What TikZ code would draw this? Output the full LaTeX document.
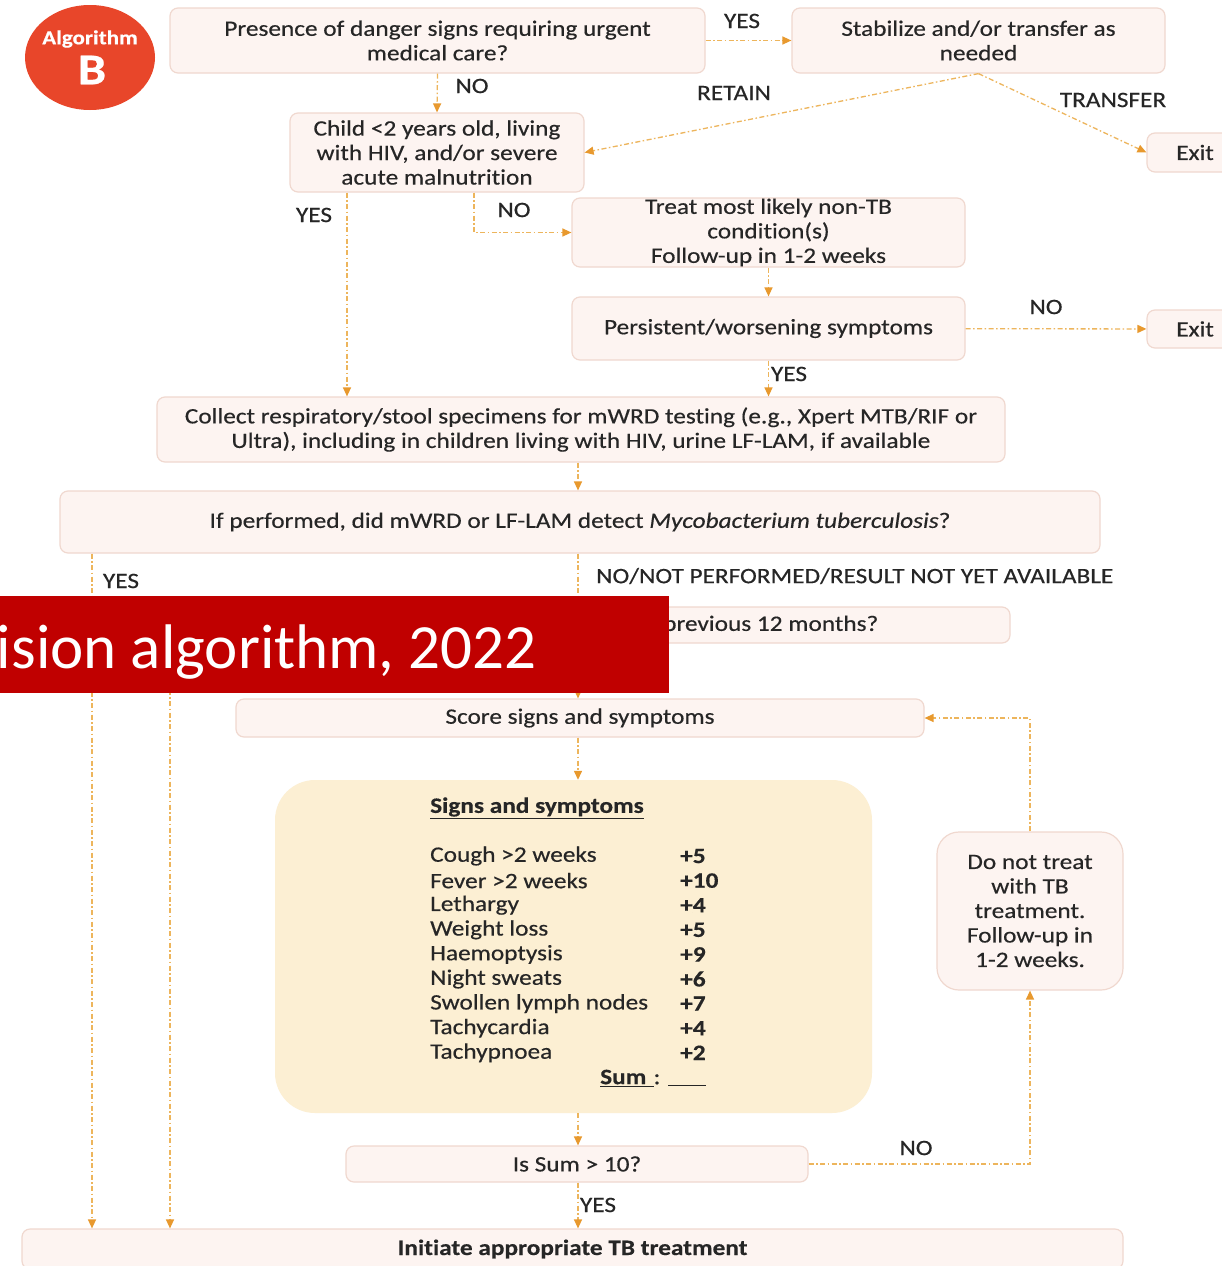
\documentclass[tikz,border=0pt]{standalone}
\usepackage{fontspec}
\setmainfont[FakeStretch=1.15, FakeBold=0.4, Ligatures=NoCommon]{Carlito}
\newfontfamily\bannerfont{Carlito}
\usetikzlibrary{arrows.meta,calc,shapes.geometric}
\definecolor{boxfill}{HTML}{FDF4F1}
\definecolor{boxline}{HTML}{F0D8CF}
\definecolor{flow}{HTML}{EDB55C}
\definecolor{tipcol}{HTML}{E8992E}
\definecolor{panelfill}{HTML}{FCEFD3}
\definecolor{badgefill}{HTML}{E8462A}
\definecolor{bannerred}{HTML}{C00000}
\definecolor{ink}{HTML}{262626}

\begin{document}
\begin{tikzpicture}[x=1pt,y=-1pt,
  every node/.style={text=ink, inner sep=0pt, font=\fontsize{22}{24.5}\selectfont},
  box/.style={draw=boxline, line width=1.2pt, fill=boxfill, rounded corners=8pt, align=center},
  flowline/.style={draw=flow, line width=1.3pt, dash pattern=on 5pt off 2.5pt on 1.5pt off 2.5pt},
  arr/.style={flowline, -{Triangle[length=9pt,width=8pt,fill=tipcol,color=tipcol]}},
]
\useasboundingbox (0,0) rectangle (1222,1266);
\clip (0,0) rectangle (1222,1266);
\fill[white] (0,0) rectangle (1222,1266);

% column positions of the vertical connectors
\coordinate (xa) at (347,0);
\coordinate (xb) at (474,0);
\coordinate (xm) at (578,0);
\coordinate (xy) at (92,0);
\coordinate (xp) at (170,0);

% badge
\node[ellipse, fill=badgefill, minimum width=130, minimum height=105] (badge) at (90,57.5) {};
\node[text=white, font=\bfseries\fontsize{20}{20}\selectfont] (algname) at (90,39) {Algorithm};
\node[text=white, font=\bfseries\fontsize{44}{44}\selectfont] (algletter) at (92,70) {B};

% boxes
\node[box, minimum width=535, minimum height=65] (danger) at (437.5,40.5) {Presence of danger signs requiring urgent\\medical care?};
\node[box, minimum width=373, minimum height=65] (stab) at (978.5,40.5) {Stabilize and/or transfer as\\needed};
\node[box, minimum width=294, minimum height=79] (child) at (437,152.5) {Child <2 years old, living\\with HIV, and/or severe\\acute malnutrition};
\node[box, minimum width=100, minimum height=39] (exitA) at (1197,152.5) {Exit\hspace{4pt}};
\node[box, minimum width=393, minimum height=69] (treat) at (768.5,232.5) {Treat most likely non-TB\\condition(s)\\Follow-up in 1-2 weeks};
\node[box, minimum width=393, minimum height=63] (persist) at (768.5,328.5) {Persistent/worsening symptoms};
\node[box, minimum width=100, minimum height=38] (exitB) at (1197,329) {Exit\hspace{4pt}};
\node[box, minimum width=848, minimum height=65] (collect) at (581,429.5) {Collect respiratory/stool specimens for mWRD testing (e.g., Xpert MTB/RIF or\\Ultra), including in children living with HIV, urine LF-LAM, if available};
\node[box, minimum width=1040, minimum height=62] (mwrd) at (580,522) {If performed, did mWRD or LF-LAM detect \textit{Mycobacterium tuberculosis}?};
\node[box, minimum width=864, minimum height=36] (prev) at (578,625) {};
\node[anchor=west] (prevtext) at (663,625) {previous 12 months?};
\node[box, minimum width=688, minimum height=38] (score) at (580,718) {Score signs and symptoms};
\node[fill=panelfill, rounded corners=40pt, minimum width=597, minimum height=333] (panel) at (573.5,946.5) {};
\node[box, minimum width=462, minimum height=36] (issum) at (577,1164) {Is Sum > 10?};
\node[box, rounded corners=22pt, minimum width=186, minimum height=158, align=center] (donot) at (1030,911) {Do not treat\\with TB\\treatment.\\Follow-up in\\1-2 weeks.};
\node[box, minimum width=1101, minimum height=40] (init) at (572.5,1249) {\bfseries Initiate appropriate TB treatment};

% score sheet
\node[anchor=west, font=\bfseries\fontsize{22}{24.5}\selectfont] (sheettitle) at (430,808) {\underline{Signs and symptoms}};
\foreach \sym/\pts [count=\i] in {Cough >2 weeks/+5, Fever >2 weeks/+10, Lethargy/+4, Weight loss/+5, Haemoptysis/+9, Night sweats/+6, Swollen lymph nodes/+7, Tachycardia/+4, Tachypnoea/+2} {
  \node[anchor=west] (sym\i) at (430,{856+(\i-1)*24.6}) {\sym};
  \node[anchor=west, font=\bfseries\fontsize{22}{24.5}\selectfont] (pts\i) at (680,{856+(\i-1)*24.6}) {\pts};
}
\node[anchor=west] (sumline) at (600,1078) {\textbf{\underline{Sum\,\,}}: \underline{\hspace{38pt}}};

% connectors
\draw[arr] (danger) -- (stab);
\draw[arr] (danger.south) -- (child.north);
\draw[arr] (stab.south) -- (child.east);
\draw[arr] (stab.south) -- (exitA.west);
\draw[arr] (child.south -| xa) -- (collect.north -| xa);
\draw[arr] (child.south -| xb) |- (treat.west);
\draw[arr] (treat) -- (persist);
\draw[arr] (persist) -- (exitB);
\draw[arr] (persist.south) -- (collect.north -| persist.south);
\draw[arr] (collect.south -| xm) -- (mwrd.north -| xm);
\draw[arr] (mwrd.south -| xy) -- (init.north -| xy);
\draw[arr] (mwrd.south -| xm) -- (prev.north -| xm);
\draw[arr] (prev.south -| xm) -- (score.north -| xm);
\draw[arr] (prev.south -| xp) -- (init.north -| xp);
\draw[arr] (score.south -| xm) -- (panel.north -| xm);
\draw[arr] (panel.south -| xm) -- (issum.north -| xm);
\draw[arr] (issum.south -| xm) -- (init.north -| xm);
\draw[arr] (issum.east) -| (donot.south);
\draw[arr] (donot.north) |- (score.east);

% connector labels
\node (yes1) at (742,21) {YES};
\node (no1) at (472,86) {NO};
\node (retain) at (734,93) {RETAIN};
\node (transfer) at (1113,100) {TRANSFER};
\node (yes2) at (314,215) {YES};
\node (no2) at (514,210) {NO};
\node (no3) at (1046,307) {NO};
\node (yes3) at (789,374) {YES};
\node (yes4) at (121,581) {YES};
\node[anchor=west] (nonot) at (596,576) {NO/NOT PERFORMED/RESULT NOT YET AVAILABLE};
\node (no4) at (916,1148) {NO};
\node (yes5) at (598,1205) {YES};

% title banner
\node[fill=bannerred, minimum width=669, minimum height=97, anchor=north west] (bannerbox) at (0,596) {};
\node[anchor=base east, text=white, font=\bannerfont\fontsize{63}{63}\selectfont] (bannertext) at (537,668) {ision algorithm, 2022};
\end{tikzpicture}
\end{document}
